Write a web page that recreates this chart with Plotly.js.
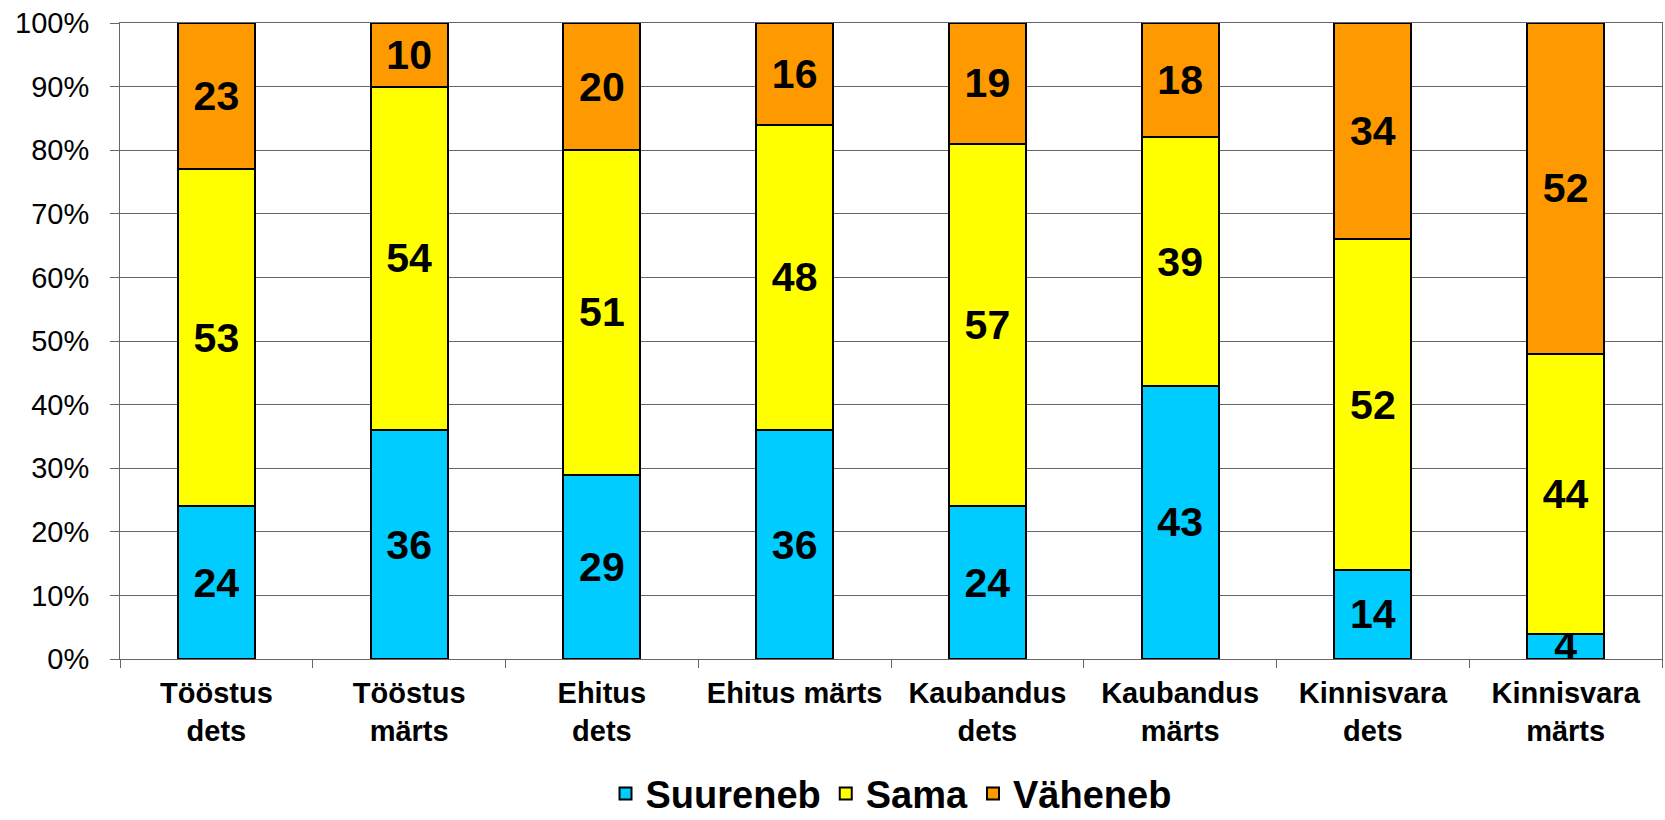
<!DOCTYPE html>
<html>
<head>
<meta charset="utf-8">
<script src="https://cdn.plot.ly/plotly-3.0.1.min.js"></script>
<style>html,body{margin:0;padding:0;background:#fff;}#chart{width:1665px;height:820px;}</style>
</head>
<body>
<div id="chart"></div>
<script>
const categories = ["Tööstus<br>dets", "Tööstus<br>märts", "Ehitus<br>dets", "Ehitus märts", "Kaubandus<br>dets", "Kaubandus<br>märts", "Kinnisvara<br>dets", "Kinnisvara<br>märts"];
const suureneb = [24, 36, 29, 36, 24, 43, 14, 4];
const sama = [53, 54, 51, 48, 57, 39, 52, 44];
const vaheneb = [23, 10, 20, 16, 19, 18, 34, 52];
const seriesNames = ["Suureneb", "Sama", "Väheneb"];
const seriesColors = ["#00CCFF", "#FFFF00", "#FF9900"];
const yTickVals = [0, 10, 20, 30, 40, 50, 60, 70, 80, 90, 100];

const FONT = "Arial, 'Liberation Sans', sans-serif";
const seriesData = [suureneb, sama, vaheneb];
const traces = seriesData.map((vals, i) => ({
  type: 'bar',
  name: seriesNames[i],
  x: categories,
  y: vals,
  text: vals.map(String),
  textposition: 'inside',
  insidetextanchor: 'middle',
  constraintext: 'none',
  textangle: 0,
  textfont: {family: FONT, size: 41, color: '#000', weight: 'bold'},
  marker: {color: seriesColors[i], line: {color: '#000', width: 2}},
  hoverinfo: 'skip'
}));

const layout = {
  width: 1665,
  height: 820,
  margin: {l: 120, r: 3, t: 23, b: 161, autoexpand: false},
  paper_bgcolor: '#fff',
  plot_bgcolor: '#fff',
  barmode: 'stack',
  bargap: 0.6,
  font: {family: FONT, color: '#000'},
  showlegend: true,
  legend: {
    orientation: 'h',
    x: 0.5, xanchor: 'center',
    y: -0.212, yanchor: 'middle',
    font: {family: FONT, size: 38, color: '#000', weight: 'bold'},
    traceorder: 'normal',
    itemwidth: 30
  },
  xaxis: {
    type: 'category',
    tickson: 'boundaries',
    ticks: 'outside',
    ticklen: 8,
    tickcolor: '#666',
    showline: true,
    linecolor: '#666',
    linewidth: 1,
    mirror: true,
    showgrid: false,
    ticklabelstandoff: 8,
    tickfont: {family: FONT, size: 29, color: '#000', weight: 'bold'},
    automargin: false
  },
  yaxis: {
    range: [0, 100],
    tickvals: yTickVals,
    ticktext: yTickVals.map(v => v + '%'),
    ticks: 'outside',
    ticklen: 9,
    tickcolor: '#666',
    showline: true,
    linecolor: '#666',
    linewidth: 1,
    mirror: true,
    showgrid: true,
    gridcolor: '#666',
    gridwidth: 1,
    zeroline: false,
    ticklabelstandoff: 15,
    tickfont: {family: FONT, size: 29, color: '#000'},
    automargin: false
  }
};

Plotly.newPlot('chart', traces, layout, {displayModeBar: false, staticPlot: true});
</script>
</body>
</html>
